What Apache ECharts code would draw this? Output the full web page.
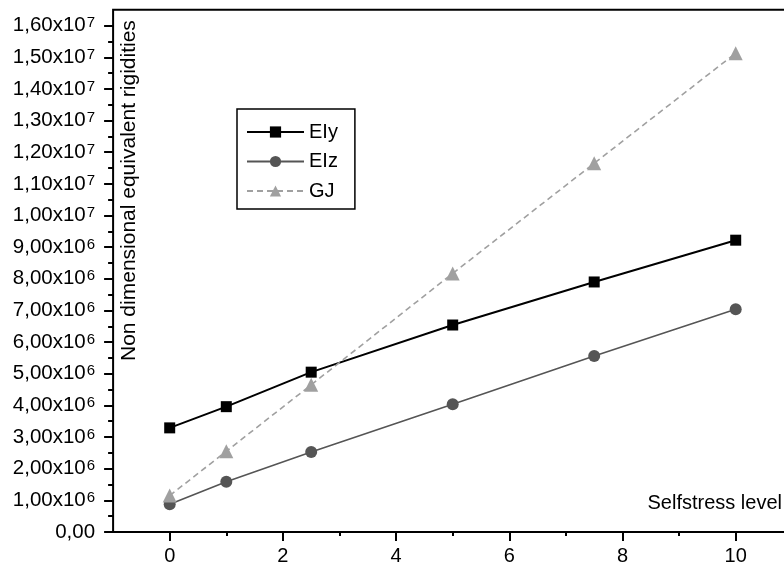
<!DOCTYPE html>
<html>
<head>
<meta charset="utf-8">
<script src="https://cdn.jsdelivr.net/npm/echarts@6/dist/echarts.min.js"></script>
<style>html,body{margin:0;padding:0;background:#fff}#c{width:784px;height:567px}</style>
</head>
<body>
<div id="c"></div>
<script>
const xValues = [0, 1, 2.5, 5, 7.5, 10];
const eiyValues = [3.29e6, 3.96e6, 5.05e6, 6.54e6, 7.90e6, 9.22e6];
const eizValues = [0.88e6, 1.59e6, 2.53e6, 4.04e6, 5.56e6, 7.04e6];
const gjValues = [1.15e6, 2.55e6, 4.65e6, 8.17e6, 11.65e6, 15.13e6];
const seriesNames = ['EIy', 'EIz', 'GJ'];
const xAxisTitle = 'Selfstress level';
const yAxisTitle = 'Non dimensional equivalent rigidities';

const FONT = '"Liberation Sans", Arial, Helvetica, sans-serif';
const unitX = 56.6, x0 = 169.7;
const unitY = 31.65, y0 = 532;

function pairs(vals) { return xValues.map((x, i) => [x, vals[i]]); }
function yFmt(v) {
  if (v === 0) return '{a|0,00}';
  const e = Math.floor(Math.log10(v) + 1e-9);
  const m = (v / Math.pow(10, e)).toFixed(2).replace('.', ',');
  return '{a|' + m + 'x10}{s|' + e + '}';
}
const hidden = {axisLine: {show: false, onZero: false}, axisTick: {show: false}, axisLabel: {show: false}, splitLine: {show: false}};
const tickStyle = {color: '#000', width: 2};

const chart = echarts.init(document.getElementById('c'), null, {renderer: 'canvas'});
chart.setOption({
  animation: false,
  backgroundColor: '#fff',
  textStyle: {fontFamily: FONT},
  grid: [
    {left: x0 - unitX, width: 12 * unitX, top: y0 - 16.5 * unitY, height: 16.5 * unitY,
     outerBoundsMode: 'none', containLabel: false,
     show: true, borderColor: '#000', borderWidth: 2, backgroundColor: 'transparent'},
    {left: x0 - unitX, width: 12 * unitX, top: y0 - 16 * unitY, height: 16 * unitY,
     outerBoundsMode: 'none', containLabel: false},
    {left: x0, width: 10 * unitX, top: y0 - 16 * unitY, height: 16 * unitY,
     outerBoundsMode: 'none', containLabel: false}
  ],
  xAxis: [
    Object.assign({gridIndex: 0, type: 'value', min: -1, max: 11}, hidden),
    Object.assign({gridIndex: 1, type: 'value', min: -1, max: 11}, hidden),
    {gridIndex: 2, type: 'value', min: 0, max: 10, interval: 2,
     axisLine: {show: false, onZero: false},
     axisTick: {show: true, inside: false, length: 9, lineStyle: tickStyle},
     minorTick: {show: true, splitNumber: 2, length: 4, lineStyle: tickStyle},
     axisLabel: {show: true, margin: 14, color: '#000', fontSize: 20, fontFamily: FONT},
     splitLine: {show: false}, minorSplitLine: {show: false}}
  ],
  yAxis: [
    Object.assign({gridIndex: 0, type: 'value', min: 0, max: 1.65e7}, hidden),
    {gridIndex: 1, type: 'value', min: 0, max: 1.6e7, interval: 1e6, position: 'left',
     axisLine: {show: false, onZero: false},
     axisTick: {show: true, inside: false, length: 9, lineStyle: tickStyle},
     minorTick: {show: true, splitNumber: 2, length: 5, lineStyle: tickStyle},
     axisLabel: {show: true, margin: 18, color: '#000', formatter: yFmt,
       rich: {
         a: {fontSize: 20.5, lineHeight: 20, fontFamily: FONT, color: '#000'},
         s: {fontSize: 15, lineHeight: 14, verticalAlign: 'top', padding: [0, 0, 0, 1], fontFamily: FONT, color: '#000'}
       }},
     splitLine: {show: false}, minorSplitLine: {show: false}},
    Object.assign({gridIndex: 2, type: 'value', min: 0, max: 1.6e7}, hidden)
  ],
  legend: {
    orient: 'vertical', left: 237, top: 109,
    padding: [13, 17, 8, 9], itemGap: 9.5,
    itemWidth: 57, itemHeight: 14,
    borderColor: '#000', borderWidth: 1.5,
    textStyle: {fontSize: 20, lineHeight: 20, color: '#000', fontFamily: FONT},
    data: seriesNames
  },
  series: [
    {name: seriesNames[0], type: 'line', xAxisIndex: 0, yAxisIndex: 0, data: pairs(eiyValues),
     symbol: 'rect', symbolSize: 11, color: '#000',
     lineStyle: {color: '#000', width: 2}, itemStyle: {color: '#000'}},
    {name: seriesNames[1], type: 'line', xAxisIndex: 0, yAxisIndex: 0, data: pairs(eizValues),
     symbol: 'circle', symbolSize: 12, color: '#555',
     lineStyle: {color: '#555', width: 1.6}, itemStyle: {color: '#555'}},
    {name: seriesNames[2], type: 'line', xAxisIndex: 0, yAxisIndex: 0, data: pairs(gjValues),
     symbol: 'triangle', symbolSize: 14, color: '#a0a0a0',
     lineStyle: {color: '#a0a0a0', width: 1.6, type: [6, 4]}, itemStyle: {color: '#a0a0a0'}}
  ],
  graphic: [
    {type: 'text', x: 129, y: 361, rotation: Math.PI / 2,
     style: {text: yAxisTitle, fontSize: 21, fontFamily: FONT, fill: '#000',
       align: 'left', verticalAlign: 'middle', textAlign: 'left', textVerticalAlign: 'middle'}},
    {type: 'text', x: 782, y: 503,
     style: {text: xAxisTitle, fontSize: 20, fontFamily: FONT, fill: '#000',
       align: 'right', verticalAlign: 'middle', textAlign: 'right', textVerticalAlign: 'middle'}}
  ]
});
</script>
</body>
</html>
